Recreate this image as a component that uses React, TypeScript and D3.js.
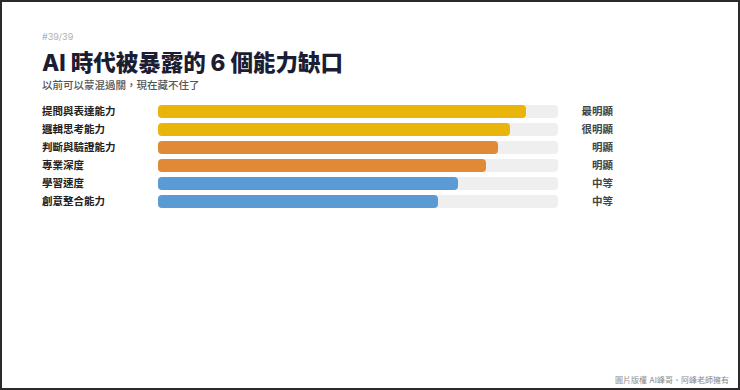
import React, { useEffect, useRef } from "react";
import * as d3 from "d3";

const categories = ["提問與表達能力", "邏輯思考能力", "判斷與驗證能力", "專業深度", "學習速度", "創意整合能力"];
const values = [92, 88, 85, 82, 75, 70];
const levels = ["最明顯", "很明顯", "明顯", "明顯", "中等", "中等"];
const groups = ["high", "high", "mid", "mid", "low", "low"];

const W = 740;
const H = 390;
const FONT = "Inter, 'Noto Sans CJK TC', 'Noto Sans', sans-serif";

export default function App() {
  const svgRef = useRef<SVGSVGElement>(null);

  useEffect(() => {
    document.body.style.margin = "0";
    if (!svgRef.current) return;
    const svg = d3.select(svgRef.current);
    svg.selectAll("*").remove();

    svg.append("rect").attr("width", W).attr("height", H).attr("fill", "#fff");
    // frame
    svg
      .append("rect")
      .attr("x", 1)
      .attr("y", 1)
      .attr("width", W - 2)
      .attr("height", H - 2)
      .attr("fill", "none")
      .attr("stroke", "#2b2b2b")
      .attr("stroke-width", 2);

    svg
      .append("text")
      .attr("x", 42)
      .attr("y", 40)
      .attr("fill", "#b0b0b0")
      .style("font-family", FONT)
      .style("font-size", "9px")
      .text("#39/39");

    svg
      .append("text")
      .attr("x", 42)
      .attr("y", 71)
      .attr("fill", "#1b1d33")
      .style("font-family", FONT)
      .style("font-size", "22.5px")
      .style("font-weight", "800")
      .text("AI 時代被暴露的 6 個能力缺口");

    svg
      .append("text")
      .attr("x", 42)
      .attr("y", 89)
      .attr("fill", "#555")
      .style("font-family", FONT)
      .style("font-size", "10.5px")
      .style("font-weight", "500")
      .text("以前可以蒙混過關，現在藏不住了");

    const x = d3.scaleLinear().domain([0, 100]).range([158, 558]);
    const y = d3
      .scaleBand<string>()
      .domain(categories)
      .range([105, 208])
      .paddingInner(5 / 18)
      .paddingOuter(0);
    const color = d3
      .scaleOrdinal<string, string>()
      .domain(["high", "mid", "low"])
      .range(["#e9b50b", "#e08a37", "#5a9bd6"]);

    const rows = svg
      .append("g")
      .selectAll("g")
      .data(categories)
      .enter()
      .append("g");

    rows
      .append("rect")
      .attr("x", x(0))
      .attr("y", (d) => y(d)!)
      .attr("width", x(100) - x(0))
      .attr("height", y.bandwidth())
      .attr("rx", 4)
      .attr("fill", "#efefef");

    rows
      .append("rect")
      .attr("x", x(0))
      .attr("y", (d) => y(d)!)
      .attr("width", (d, i) => x(values[i]) - x(0))
      .attr("height", y.bandwidth())
      .attr("rx", 4)
      .attr("fill", (d, i) => color(groups[i]));

    rows
      .append("text")
      .attr("x", 42)
      .attr("y", (d) => y(d)! + y.bandwidth() / 2)
      .attr("dy", "0.36em")
      .attr("fill", "#222")
      .style("font-family", FONT)
      .style("font-size", "10.5px")
      .style("font-weight", "600")
      .text((d) => d);

    rows
      .append("text")
      .attr("x", 613)
      .attr("y", (d) => y(d)! + y.bandwidth() / 2)
      .attr("dy", "0.36em")
      .attr("text-anchor", "end")
      .attr("fill", "#444")
      .style("font-family", FONT)
      .style("font-size", "10.5px")
      .style("font-weight", "600")
      .text((d, i) => levels[i]);

    svg
      .append("text")
      .attr("x", 729)
      .attr("y", 383)
      .attr("text-anchor", "end")
      .attr("fill", "#8a8a8a")
      .style("font-family", FONT)
      .style("font-size", "8px")
      .text("圖片版權 AI峰哥、阿峰老師擁有");
  }, []);

  return <svg ref={svgRef} width={W} height={H} style={{ display: "block" }}></svg>;
}
